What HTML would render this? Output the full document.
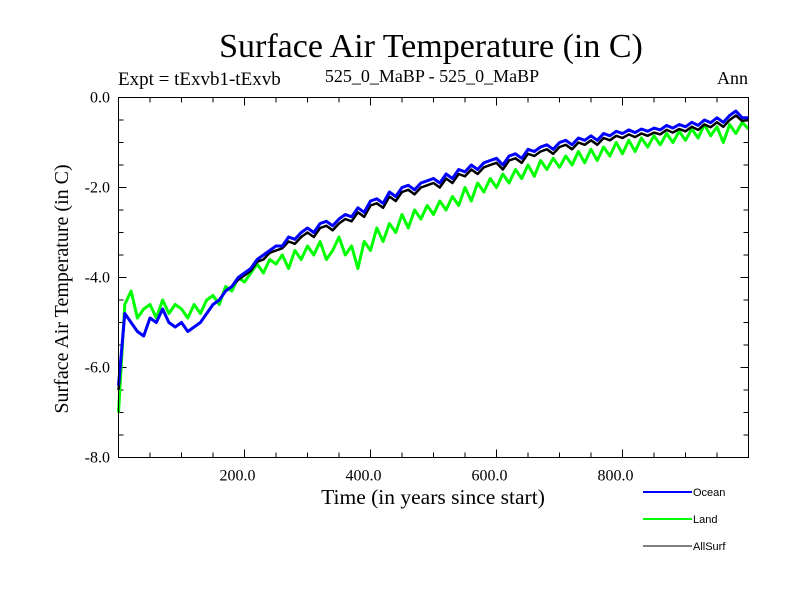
<!DOCTYPE html>
<html><head><meta charset="utf-8"><style>
body{margin:0;background:#fff;}
svg{display:block;font-family:"Liberation Serif",serif;}
</style></head><body>
<svg id="chart" width="800" height="600">
<text x="431" y="57" font-size="34" text-anchor="middle">Surface Air Temperature (in C)</text>
<text x="118" y="85" font-size="19">Expt = tExvb1-tExvb</text>
<text x="432" y="82" font-size="18" text-anchor="middle">525_0_MaBP - 525_0_MaBP</text>
<text x="748" y="84" font-size="18" text-anchor="end">Ann</text>
<text transform="translate(68,289) rotate(-90)" font-size="20" text-anchor="middle">Surface Air Temperature (in C)</text>
<text x="433" y="504" font-size="21.5" text-anchor="middle">Time (in years since start)</text>
<g id="ticks"></g>
<g id="series"></g>
<rect x="118.5" y="97.5" width="630" height="360" fill="none" stroke="#000" stroke-width="1"/>
<g id="legend" font-family="Liberation Sans, sans-serif" font-size="11"></g>
</svg>
<script>
const years=[];for(let i=0;i<=100;i++)years.push(i*10);
const oceanValues=[-6.4,-4.8,-5.0,-5.2,-5.3,-4.9,-5.0,-4.7,-5.0,-5.1,-5.0,-5.2,-5.1,-5.0,-4.8,-4.6,-4.5,-4.3,-4.2,-4.0,-3.9,-3.8,-3.6,-3.5,-3.4,-3.3,-3.3,-3.1,-3.15,-3.0,-2.9,-3.0,-2.8,-2.75,-2.85,-2.7,-2.6,-2.65,-2.45,-2.55,-2.3,-2.25,-2.35,-2.1,-2.2,-2.0,-1.95,-2.05,-1.9,-1.85,-1.8,-1.9,-1.7,-1.8,-1.6,-1.65,-1.5,-1.6,-1.45,-1.4,-1.35,-1.5,-1.3,-1.25,-1.35,-1.15,-1.2,-1.1,-1.05,-1.15,-1.0,-0.95,-1.05,-0.9,-0.95,-0.85,-0.95,-0.8,-0.85,-0.75,-0.8,-0.72,-0.78,-0.7,-0.75,-0.68,-0.72,-0.62,-0.68,-0.6,-0.65,-0.55,-0.62,-0.5,-0.56,-0.45,-0.55,-0.4,-0.3,-0.45,-0.45];
const landValues=[-7.0,-4.6,-4.3,-4.9,-4.7,-4.6,-4.9,-4.5,-4.8,-4.6,-4.7,-4.9,-4.6,-4.8,-4.5,-4.4,-4.6,-4.2,-4.3,-4.0,-4.1,-3.9,-3.7,-3.9,-3.6,-3.7,-3.5,-3.8,-3.4,-3.6,-3.3,-3.5,-3.2,-3.6,-3.4,-3.1,-3.5,-3.3,-3.8,-3.2,-3.4,-2.9,-3.2,-2.8,-3.0,-2.6,-2.9,-2.5,-2.7,-2.4,-2.6,-2.3,-2.5,-2.2,-2.4,-2.0,-2.3,-1.9,-2.1,-1.8,-2.0,-1.7,-1.9,-1.6,-1.8,-1.5,-1.75,-1.4,-1.6,-1.35,-1.55,-1.3,-1.5,-1.2,-1.45,-1.15,-1.4,-1.1,-1.3,-1.0,-1.25,-0.95,-1.2,-0.9,-1.1,-0.85,-1.05,-0.8,-1.0,-0.75,-0.95,-0.7,-0.9,-0.6,-0.85,-0.65,-1.0,-0.6,-0.8,-0.55,-0.7];
const allSurfValues=[-6.5,-4.8,-5.0,-5.2,-5.3,-4.9,-5.0,-4.7,-5.0,-5.1,-5.0,-5.2,-5.1,-5.0,-4.8,-4.6,-4.5,-4.3,-4.2,-4.05,-3.95,-3.85,-3.65,-3.6,-3.45,-3.4,-3.35,-3.2,-3.25,-3.1,-3.0,-3.1,-2.9,-2.85,-2.95,-2.8,-2.7,-2.75,-2.55,-2.65,-2.4,-2.35,-2.45,-2.2,-2.3,-2.1,-2.05,-2.15,-2.0,-1.95,-1.9,-2.0,-1.8,-1.9,-1.7,-1.75,-1.6,-1.7,-1.55,-1.5,-1.45,-1.6,-1.4,-1.35,-1.45,-1.25,-1.3,-1.2,-1.15,-1.25,-1.1,-1.05,-1.15,-1.0,-1.05,-0.95,-1.05,-0.9,-0.95,-0.85,-0.9,-0.82,-0.88,-0.8,-0.85,-0.78,-0.82,-0.72,-0.78,-0.7,-0.75,-0.65,-0.72,-0.6,-0.66,-0.55,-0.65,-0.5,-0.4,-0.52,-0.5];
const xTickValues=[200,400,600,800];
const xTickLabels=["200.0","400.0","600.0","800.0"];
const yTickValues=[0,-2,-4,-6,-8];
const yTickLabels=["0.0","-2.0","-4.0","-6.0","-8.0"];
const X0=118.5,X1=748.5,Y0=97.5,Y1=457.5;
const xs=v=>X0+(v-0)/1000*(X1-X0);
const ys=v=>Y0+(0-v)/8*(Y1-Y0);
const NS="http://www.w3.org/2000/svg";
const tg=document.getElementById('ticks');
function mk(tag,attrs,parent){const e=document.createElementNS(NS,tag);for(const k in attrs)e.setAttribute(k,attrs[k]);parent.appendChild(e);return e;}
for(let v=50;v<1000;v+=50){const major=v%200===0;const L=major?8:5;
 let t=mk('line',{x1:xs(v),x2:xs(v),y1:Y1,y2:Y1-L,stroke:'#000'},tg);
 
 
 t=mk('line',{x1:xs(v),x2:xs(v),y1:Y0,y2:Y0+L,stroke:'#000'},tg);
 
 }
for(let v=-0.5;v>-8;v-=0.5){const major=Math.abs(v%2)<1e-6;const L=major?8:5;
 let t=mk('line',{x1:X0,x2:X0+L,y1:ys(v),y2:ys(v),stroke:'#000'},tg);
 
 
 t=mk('line',{x1:X1,x2:X1-L,y1:ys(v),y2:ys(v),stroke:'#000'},tg);
 
 }
xTickValues.forEach((v,i)=>{const t=mk('text',{x:xs(v)-7,y:Y1+23,'font-size':16,'text-anchor':'middle'},tg);t.textContent=xTickLabels[i];
 
 });
yTickValues.forEach((v,i)=>{const t=mk('text',{x:110,y:ys(v)+5,'font-size':16,'text-anchor':'end'},tg);t.textContent=yTickLabels[i];
 
 });
const sg=document.getElementById('series');
function line(vals,color,w,name){const d=vals.map((v,i)=>(i?'L':'M')+xs(years[i]).toFixed(1)+','+ys(v).toFixed(1)).join('');
 const p=mk('path',{d:d,fill:'none',stroke:color,'stroke-width':w,'stroke-linejoin':'round'},sg);
 
 }
line(landValues,'#00ff00',3,'land-line');
line(allSurfValues,'#000000',2.5,'allsurf-line');
line(oceanValues,'#0000ff',3,'ocean-line');
const lg=document.getElementById('legend');
[['Ocean','#0000ff',492],['Land','#00ff00',519],['AllSurf','#000000',546]].forEach(([n,c,y])=>{
 const l=mk('line',{x1:643,x2:692,y1:y,y2:y,stroke:c,'stroke-width':n==='AllSurf'?1:2},lg);
 
 
 const t=mk('text',{x:693,y:y+4},lg);t.textContent=n;
 
 });
</script>
</body></html>
